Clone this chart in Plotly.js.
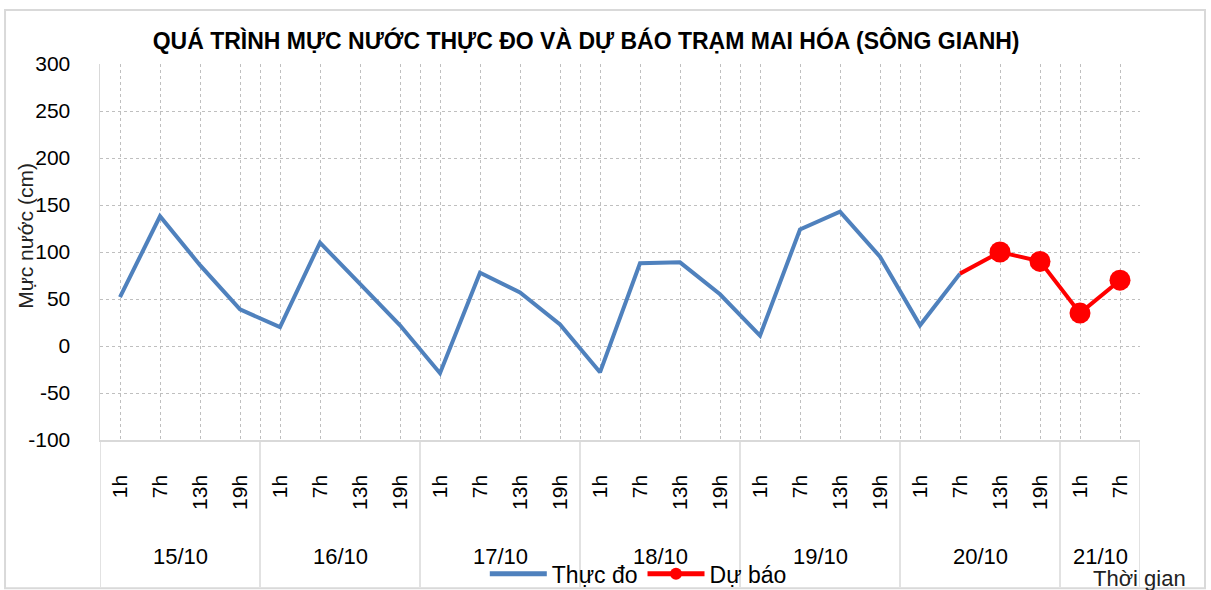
<!DOCTYPE html>
<html>
<head>
<meta charset="utf-8">
<script src="https://cdn.plot.ly/plotly-3.0.1.min.js"></script>
<style>html,body{margin:0;padding:0;background:#fff;}#chart{width:1211px;height:590px;}</style>
</head>
<body>
<div id="chart"></div>
<script>
const dates = ['15/10','16/10','17/10','18/10','19/10','20/10','21/10'];
const hoursPerDate = [
  ['1h','7h','13h','19h'],
  ['1h','7h','13h','19h'],
  ['1h','7h','13h','19h'],
  ['1h','7h','13h','19h'],
  ['1h','7h','13h','19h'],
  ['1h','7h','13h','19h'],
  ['1h','7h']
];
const measured = [52,138,86,39, 20,110,66,22, -29,78,57,23, -28,88,89,55, 11,124,143,95, 22,77];
const forecast = [null,null,null,null, null,null,null,null, null,null,null,null, null,null,null,null, null,null,null,null, null,77,100,90,35,70];
const forecastMarkerShown = [false,false,false,false, false,false,false,false, false,false,false,false, false,false,false,false, false,false,false,false, false,false,true,true,true,true];
const yTickVals = [-100,-50,0,50,100,150,200,250,300];
const yTickText = yTickVals.map(v => String(v));

const hourLabels = [].concat(...hoursPerDate);
const xIdx = hourLabels.map((_, i) => i);

// group boundaries & centers
const bounds = [-0.5];
const centers = [];
let acc = 0;
hoursPerDate.forEach(h => { centers.push(acc + (h.length - 1) / 2); acc += h.length; bounds.push(acc - 0.5); });

const fontMain = 'Liberation Sans, Arial, sans-serif';
const gridCol = '#bfbfbf';

const shapes = bounds.map(b => ({
  type: 'line', xref: 'x', yref: 'paper', x0: b, x1: b, y0: 0, y1: -0.391,
  line: {color: '#d9d9d9', width: 1.5}
}));
shapes.push({type:'rect', xref:'paper', yref:'paper', x0:-0.0913, x1:1.0625, y0:-0.394, y1:1.1436,
  line:{color:'#d9d9d9', width:2}, fillcolor:'rgba(0,0,0,0)', layer:'below'});

const annotations = dates.map((d, i) => ({
  text: d, x: centers[i], xref: 'x', y: -0.309, yref: 'paper', showarrow: false,
  font: {family: fontMain, size: 22, color: '#000'}, yanchor: 'middle'
}));
annotations.push({text: 'Thời gian', xref: 'paper', yref: 'paper', x: 1.0465, y: -0.368, xanchor: 'right', yanchor: 'middle',
  showarrow: false, font: {family: fontMain, size: 22, color: '#222'}});
annotations.push({text: 'Mực nước (cm)', xref: 'paper', yref: 'paper', x: -0.0712, y: 0.543, xanchor: 'center', yanchor: 'middle',
  textangle: -90, showarrow: false, font: {family: fontMain, size: 21, color: '#222'}});

const traces = [
  {x: xIdx, y: measured, name: 'Thực đo', type: 'scatter', mode: 'lines',
   line: {color: '#4f81bd', width: 4}},
  {x: xIdx, y: forecast, name: 'Dự báo', type: 'scatter', mode: 'lines+markers',
   line: {color: '#ff0000', width: 4},
   marker: {color: '#ff0000', opacity: 1, line: {width: 0}, size: forecastMarkerShown.map(s => s ? 21 : 0)}}
];

const layout = {
  width: 1211, height: 590,
  margin: {l: 100, r: 71, t: 64, b: 150, autoexpand: false},
  paper_bgcolor: '#fff', plot_bgcolor: '#fff',
  title: {text: '<b>QUÁ TRÌNH MỰC NƯỚC THỰC ĐO VÀ DỰ BÁO TRẠM MAI HÓA (SÔNG GIANH)</b>',
    x: 0.484, xanchor: 'center', y: 0.931, yanchor: 'middle',
    font: {family: fontMain, size: 23, color: '#000'}},
  showlegend: true,
  legend: {orientation: 'h', x: 0.37, y: -0.356, xanchor: 'left', yanchor: 'middle',
    itemsizing: 'constant', itemwidth: 57, traceorder: 'normal',
    bgcolor: 'rgba(0,0,0,0)', font: {family: fontMain, size: 23, color: '#000'}},
  xaxis: {
    range: [-0.5, hourLabels.length - 0.5],
    tickmode: 'array', tickvals: xIdx, ticktext: hourLabels,
    tickangle: -90, ticks: '', ticklabelstandoff: 25,
    tickfont: {family: fontMain, size: 21, color: '#000'},
    showgrid: true, gridcolor: gridCol, griddash: 'dot', gridwidth: 1,
    minor: {tickmode: 'array', tickvals: bounds, showgrid: true, gridcolor: gridCol, griddash: 'dot', gridwidth: 1, ticks: ''},
    showline: true, linecolor: '#d9d9d9', linewidth: 1.5,
    zeroline: false, fixedrange: true
  },
  yaxis: {
    range: [-100, 300], tickmode: 'array', tickvals: yTickVals, ticktext: yTickText,
    tickfont: {family: fontMain, size: 21, color: '#000'},
    ticks: '', ticklabelstandoff: 24,
    showgrid: true, gridcolor: gridCol, griddash: 'dot', gridwidth: 1,
    showline: true, linecolor: '#d9d9d9', linewidth: 1.5,
    zeroline: false
  },
  shapes: shapes,
  annotations: annotations
};

Plotly.newPlot('chart', traces, layout, {staticPlot: true});
</script>
</body>
</html>
